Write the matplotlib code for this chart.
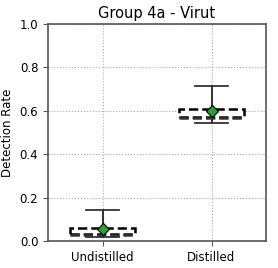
import numpy as np
import matplotlib.pyplot as plt

# summary stats
labels = ['Undistilled', 'Distilled']
whislo = [0.017, 0.545]
q1 = [0.034, 0.572]
med = [0.029, 0.566]
q3 = [0.062, 0.609]
whishi = [0.141, 0.715]
means = [0.055, 0.601]

stats = []
for i in range(len(labels)):
    stats.append({'label': labels[i], 'whislo': whislo[i], 'q1': q1[i], 'med': med[i],
                  'q3': q3[i], 'whishi': whishi[i], 'mean': means[i], 'fliers': []})

fig = plt.figure(figsize=(2.78, 2.68), dpi=100)
ax = fig.add_axes([48 / 278, 27 / 268, 218 / 278, 217 / 268])

ax.bxp(stats, showmeans=True, widths=0.6, patch_artist=True,
       boxprops=dict(facecolor='white', edgecolor='black', linestyle='--', linewidth=1.8),
       medianprops=dict(color='#333333', linestyle='--', linewidth=1.8),
       whiskerprops=dict(color='#222222', linewidth=1.3),
       capprops=dict(color='#333333', linewidth=1.3),
       meanprops=dict(marker='D', markerfacecolor='#2ca02c', markeredgecolor='black',
                      markersize=6, markeredgewidth=0.8))

ax.set_ylim(0, 1.0)
ax.set_xlim(0.5, 2.5)
ax.set_yticks([0.0, 0.2, 0.4, 0.6, 0.8, 1.0])
ax.grid(True, linestyle=':', color='#aaaaaa', linewidth=0.8)
ax.set_axisbelow(True)
ax.set_title('Group 4a - Virut', fontsize=10.5, pad=4)
ax.set_ylabel('Detection Rate', fontsize=8.5)
ax.tick_params(labelsize=8.5, color='#555555')
for s in ax.spines.values():
    s.set_color('#555555')
    s.set_linewidth(1.2)

plt.savefig('out.png', dpi=100)
